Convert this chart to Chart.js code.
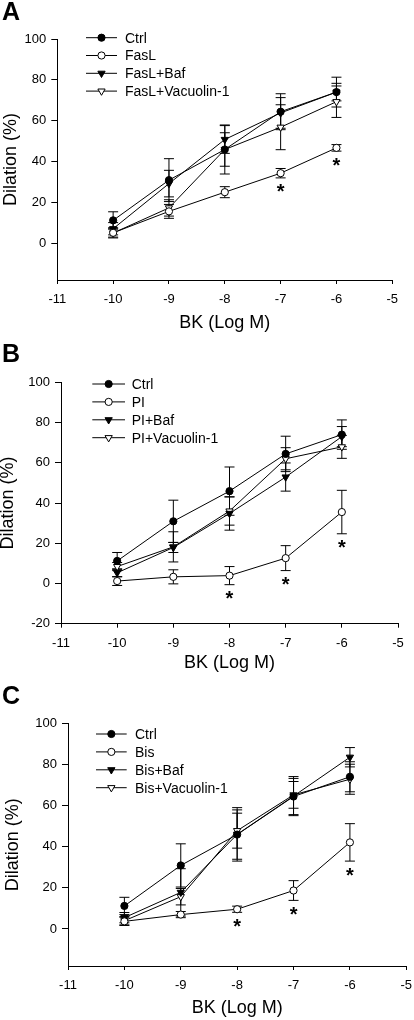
<!DOCTYPE html>
<html>
<head>
<meta charset="utf-8">
<script src="https://cdn.jsdelivr.net/npm/chart.js@4.4.1/dist/chart.umd.min.js"></script>
<style>
  body { margin: 0; background: #fff; }
  #wrap { position: relative; width: 414px; height: 1020px; }
  canvas { position: absolute; left: 0; }
</style>
</head>
<body>
<div id="wrap">
  <canvas id="panelA" width="414" height="340" style="top:0"></canvas>
  <canvas id="panelB" width="414" height="340" style="top:340px"></canvas>
  <canvas id="panelC" width="414" height="340" style="top:680px"></canvas>
</div>
<script>
// BK dose (log M)
var doses = [-10, -9, -8, -7, -6];

var ctrlMean = [11.2, 30.9, 45.9, 64.4, 74.0];
var ctrlErr  = [4.2, 10.5, 12.0, 8.8, 7.3];

// panel A
var labelsA     = ['Ctrl', 'FasL', 'FasL+Baf', 'FasL+Vacuolin-1'];
var faslMean    = [5.1, 15.6, 25.0, 34.3, 46.7];
var faslErr     = [2.5, 3.4, 2.7, 2.3, 1.6];
var faslBafMean = [7.1, 29.2, 50.8, 63.8, 74.0];
var faslBafErr  = [3.0, 6.5, 6.8, 7.5, 4.3];
var faslVacMean = [5.0, 17.3, 45.9, 56.8, 69.3];
var faslVacErr  = [2.0, 4.0, 8.2, 11.0, 7.7];
var starsA      = [-7, -6];

// panel B
var labelsB   = ['Ctrl', 'PI', 'PI+Baf', 'PI+Vacuolin-1'];
var piMean    = [1.2, 3.3, 3.9, 12.6, 35.5];
var piErr     = [2.2, 3.5, 4.5, 6.2, 10.8];
var piBafMean = [5.3, 17.9, 34.8, 52.9, 73.0];
var piBafErr  = [2.0, 2.5, 8.3, 7.0, 5.0];
var piVacMean = [8.4, 18.2, 36.0, 62.0, 67.9];
var piVacErr  = [2.0, 7.5, 7.0, 5.5, 5.7];
var starsB    = [-8, -7, -6];

// panel C
var labelsC    = ['Ctrl', 'Bis', 'Bis+Baf', 'Bis+Vacuolin-1'];
var bisMean    = [3.7, 7.0, 9.6, 18.7, 42.1];
var bisErr     = [2.0, 1.5, 1.5, 4.8, 9.1];
var bisBafMean = [5.5, 17.8, 46.0, 64.6, 83.5];
var bisBafErr  = [2.5, 11.5, 13.0, 9.5, 4.7];
var bisVacMean = [4.0, 15.7, 47.8, 65.2, 72.8];
var bisVacErr  = [2.0, 4.0, 8.5, 6.5, 7.3];
var starsC     = [-8, -7, -6];

var xTicks = { min: -11, max: -5, step: 1 };
var yTicks = { max: 100, step: 20 };

var FONT = '"Liberation Sans", Arial, Helvetica, sans-serif';

// marker look of the 4 groups: filled circle, open circle, filled tri, open tri
var markers = [
  { style: 'circle',   rot: 0,   fill: '#000', r: 3.6 },
  { style: 'circle',   rot: 0,   fill: '#fff', r: 3.6 },
  { style: 'triangle', rot: 180, fill: '#000', r: 4.2 },
  { style: 'triangle', rot: 180, fill: '#fff', r: 4.2 }
];

function series(label, means, errs, k) {
  var m = markers[k];
  return {
    label: label,
    data: doses.map(function (d, i) { return { x: d, y: means[i] }; }),
    errors: errs,
    borderColor: '#000',
    borderWidth: 1,
    pointStyle: m.style,
    pointRotation: m.rot,
    pointRadius: m.r,
    pointBorderWidth: 1,
    pointBorderColor: '#000',
    pointBackgroundColor: m.fill,
    tension: 0,
    clip: false
  };
}

var errorBars = {
  id: 'errorBars',
  beforeDatasetsDraw: function (chart) {
    var ctx = chart.ctx, xs = chart.scales.x, ys = chart.scales.y;
    ctx.save();
    ctx.strokeStyle = '#000';
    ctx.lineWidth = 1;
    chart.data.datasets.forEach(function (ds) {
      ds.data.forEach(function (p, i) {
        var e = ds.errors[i];
        var px = xs.getPixelForValue(p.x);
        var top = ys.getPixelForValue(p.y + e);
        var bot = ys.getPixelForValue(p.y - e);
        ctx.beginPath();
        ctx.moveTo(px, top); ctx.lineTo(px, bot);
        ctx.moveTo(px - 5, top); ctx.lineTo(px + 5, top);
        ctx.moveTo(px - 5, bot); ctx.lineTo(px + 5, bot);
        ctx.stroke();
      });
    });
    ctx.restore();
  }
};

var extras = {
  id: 'extras',
  afterDraw: function (chart, args, opts) {
    var ctx = chart.ctx, xs = chart.scales.x, ys = chart.scales.y;
    ctx.save();
    ctx.fillStyle = '#000';

    // significance stars under the treated group
    var ds = chart.data.datasets[1];
    ctx.font = 'bold 20px ' + FONT;
    ctx.textAlign = 'center';
    ctx.textBaseline = 'alphabetic';
    opts.stars.forEach(function (d) {
      var i = doses.indexOf(d);
      var p = ds.data[i];
      var y = ys.getPixelForValue(p.y - ds.errors[i]);
      ctx.fillText('*', xs.getPixelForValue(d), y + 9 + 11.4);
    });

    // legend: line with marker in the middle
    var lg = opts.legend;
    ctx.font = '14px ' + FONT;
    ctx.textAlign = 'left';
    ctx.textBaseline = 'middle';
    chart.data.datasets.forEach(function (s, k) {
      var y = lg.y0 + k * lg.dy;
      ctx.strokeStyle = '#000';
      ctx.lineWidth = 1;
      ctx.beginPath();
      ctx.moveTo(lg.x1, y); ctx.lineTo(lg.x2, y);
      ctx.stroke();
      ctx.fillStyle = s.pointBackgroundColor;
      Chart.helpers.drawPoint(ctx, {
        pointStyle: s.pointStyle, rotation: s.pointRotation,
        radius: s.pointRadius, borderWidth: 1
      }, (lg.x1 + lg.x2) / 2, y);
      ctx.fillStyle = '#000';
      ctx.fillText(s.label, lg.tx, y + 1);
    });

    // panel letter
    ctx.font = 'bold 25px ' + FONT;
    ctx.textBaseline = 'alphabetic';
    ctx.fillText(opts.letter.text, opts.letter.x, opts.letter.y);
    ctx.restore();
  }
};

function makePanel(id, sets, yMin, area, pads, legend, stars, letter) {
  return new Chart(document.getElementById(id), {
    type: 'line',
    data: { datasets: sets },
    options: {
      responsive: false,
      animation: false,
      layout: { padding: { left: 0, top: area.t, right: 414 - area.r, bottom: 0 } },
      plugins: {
        legend: { display: false },
        tooltip: { enabled: false },
        extras: { legend: legend, stars: stars, letter: letter }
      },
      scales: {
        x: {
          type: 'linear',
          min: xTicks.min, max: xTicks.max,
          grid: { drawOnChartArea: false, tickLength: 4, color: '#000' },
          border: { color: '#000', width: 1 },
          ticks: { stepSize: xTicks.step, autoSkip: false, maxRotation: 0, padding: 8,
                   color: '#000', font: { family: FONT, size: 13 } },
          title: { display: true, text: 'BK (Log M)', color: '#000',
                   font: { family: FONT, size: 18 }, padding: { top: 0, bottom: pads.x } },
          afterFit: function (s) { s.height = 340 - area.b; s.paddingLeft = 0; s.paddingRight = 0; }
        },
        y: {
          min: yMin, max: yTicks.max,
          grid: { drawOnChartArea: false, tickLength: 6, color: '#000' },
          border: { color: '#000', width: 1 },
          ticks: { stepSize: yTicks.step, includeBounds: false, padding: 5,
                   color: '#000', font: { family: FONT, size: 13 } },
          title: { display: true, text: 'Dilation (%)', color: '#000',
                   font: { family: FONT, size: 18 }, padding: { top: pads.y, bottom: 0 } },
          afterFit: function (s) { s.width = area.l; s.paddingTop = 0; s.paddingBottom = 0; }
        }
      }
    },
    plugins: [errorBars, extras]
  });
}

makePanel('panelA', [
  series(labelsA[0], ctrlMean, ctrlErr, 0),
  series(labelsA[1], faslMean, faslErr, 1),
  series(labelsA[2], faslBafMean, faslBafErr, 2),
  series(labelsA[3], faslVacMean, faslVacErr, 3)
], -18, { l: 57.3, t: 39, r: 392.3, b: 280 }, { x: 5.9, y: 0 },
   { x1: 86, x2: 117, tx: 125, y0: 37.7, dy: 17.8 }, starsA, { text: 'A', x: 2, y: 20 });

makePanel('panelB', [
  series(labelsB[0], ctrlMean, ctrlErr, 0),
  series(labelsB[1], piMean, piErr, 1),
  series(labelsB[2], piBafMean, piBafErr, 2),
  series(labelsB[3], piVacMean, piVacErr, 3)
], -20, { l: 61, t: 42.3, r: 398, b: 283.7 }, { x: 5.9, y: -2.3 },
   { x1: 92.3, x2: 125, tx: 131.7, y0: 44, dy: 17.9 }, starsB, { text: 'B', x: 2, y: 21.7 });

makePanel('panelC', [
  series(labelsC[0], ctrlMean, ctrlErr, 0),
  series(labelsC[1], bisMean, bisErr, 1),
  series(labelsC[2], bisBafMean, bisBafErr, 2),
  series(labelsC[3], bisVacMean, bisVacErr, 3)
], -18, { l: 68, t: 43.3, r: 406.3, b: 286 }, { x: 0.9, y: 1.9 },
   { x1: 96, x2: 126.7, tx: 135, y0: 54, dy: 17.9 }, starsC, { text: 'C', x: 2, y: 24 });
</script>
</body>
</html>
